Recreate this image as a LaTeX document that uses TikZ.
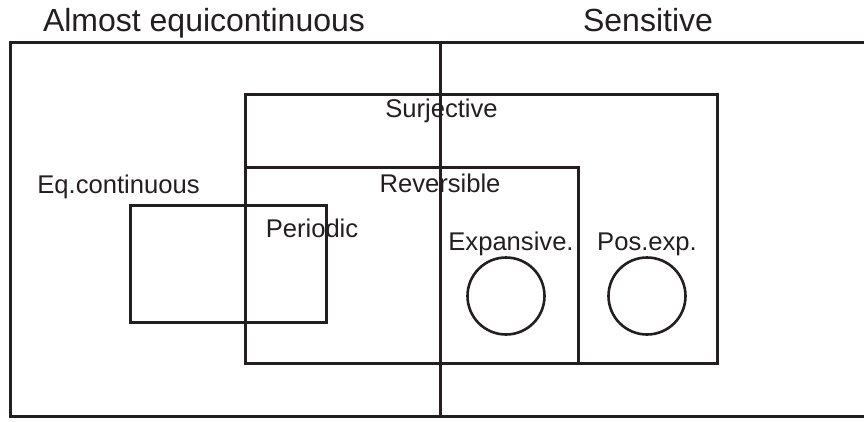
\documentclass[tikz,border=0pt]{standalone}
\usepackage{fontspec}
\setmainfont{Liberation Sans}
\definecolor{ink}{HTML}{231F20}
\begin{document}
\begin{tikzpicture}[x=1pt,y=-1pt,
  setline/.style={draw=ink,line width=3pt},
  circline/.style={draw=ink,line width=2.6pt},
  title/.style={anchor=base,inner sep=0pt,text=ink,font=\fontsize{32}{36}\selectfont},
  lab/.style={anchor=base,inner sep=0pt,text=ink,font=\fontsize{25.6}{30}\selectfont}]
\clip (0,0) rectangle (864,421);
\fill[white] (0,0) rectangle (864,421);
% outer set
\draw[setline] (10,42) rectangle (870,416);
\draw[setline] (440,42) -- (440,416);
% Surjective
\draw[setline] (245,94) rectangle (717,363);
% Reversible
\draw[setline] (245,167) rectangle (578,363);
% Eq.continuous
\draw[setline] (130,205) rectangle (326,322);
% circles
\draw[circline] (506,296) circle (38.5);
\draw[circline] (647,296) circle (38.5);
% labels
\node[title] (ae) at (204,31) {Almost equicontinuous};
\node[title] (se) at (648,31) {Sensitive};
\node[lab] (sj) at (441.5,117) {Surjective};
\node[lab] (eq) at (118.5,193) {Eq.continuous};
\node[lab] (rv) at (440,192) {Reversible};
\node[lab] (pd) at (312,237) {Periodic};
\node[lab] (ex) at (511,250) {Expansive.};
\node[lab] (pe) at (647,250) {Pos.exp.};
\end{tikzpicture}
\end{document}
